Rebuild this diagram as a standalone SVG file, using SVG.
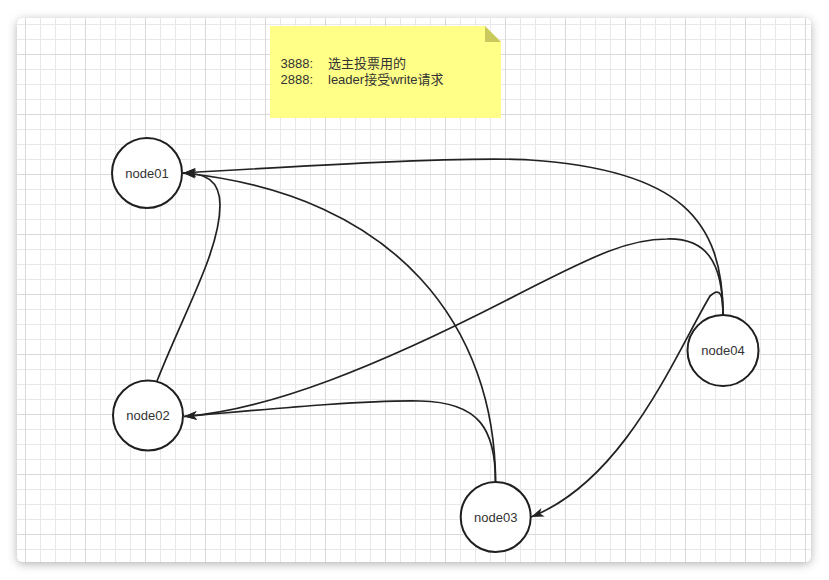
<svg xmlns="http://www.w3.org/2000/svg" width="829" height="580" viewBox="0 0 829 580">
<defs>
<style>
.node circle{fill:#ffffff;stroke:#1f1f1f;stroke-width:2}
.node text{font-family:"Liberation Sans",Arial,sans-serif;font-size:13px;fill:#333333;text-anchor:middle}
.edge{fill:none;stroke:#222222;stroke-width:1.7;marker-end:url(#arrow)}
.note-text{font-family:"Liberation Sans","Noto Sans CJK SC",sans-serif;font-size:13px;fill:#333333}
</style>
<marker id="arrow" markerUnits="userSpaceOnUse" markerWidth="15" markerHeight="11" refX="13" refY="5" orient="auto">
<path d="M0,0.5 L13,5 L0,9.5 L3.5,5 Z" fill="#222222"/>
</marker>
<pattern id="grid" patternUnits="userSpaceOnUse" x="25" y="-6" width="60" height="60">
<path d="M15.5,0 V60 M30.5,0 V60 M45.5,0 V60 M0,15.5 H60 M0,30.5 H60 M0,45.5 H60" stroke="#e8e8e8" stroke-width="1" fill="none"/>
<path d="M0.5,0 V60 M0,0.5 H60" stroke="#d9d9d9" stroke-width="1" fill="none"/>
</pattern>
<filter id="shadow" x="-10%" y="-10%" width="120%" height="120%">
<feDropShadow dx="0" dy="2" stdDeviation="5" flood-color="#000000" flood-opacity="0.3"/>
</filter>
</defs>
<rect width="829" height="580" fill="#ffffff"/>
<rect x="17" y="18" width="794" height="544" rx="6" fill="#ffffff" filter="url(#shadow)"/>
<rect x="17" y="18" width="794" height="544" rx="6" fill="url(#grid)"/>

<g id="note">
<path d="M270,26 H485 L501,42 V118 H270 Z" fill="#ffff88"/>
<path d="M485,26 L501,42 H485 Z" fill="#c9c95e"/>
<text class="note-text" x="280.5" y="68">3888:</text>
<text class="note-text" x="328" y="68">选主投票用的</text>
<text class="note-text" x="280.5" y="84">2888:</text>
<text class="note-text" x="328" y="84">leader接受write请求</text>
</g>

<g id="connectors">
<path id="e-04-01" class="edge" d="M723,315 C723,220 680,170 530,160 C470,156 300,166 183,173"/>
<path id="e-04-02" class="edge" d="M723,315 C723,260 705,238 667,239 C630,239 600,252 507,300 C380,365 270,410 184,416.5"/>
<path id="e-04-03" class="edge" d="M723,315 C723,296 721,286 710,296 C675,355 625,480 531,517"/>
<path id="e-03-01" class="edge" d="M495.5,482 C495.5,330 400,195 183,173"/>
<path id="e-03-02" class="edge" d="M495.5,482 C495.5,430 480,402 420,401 C360,400 260,410 184,416.5"/>
<path id="e-02-01" class="edge" d="M157,381 C185,310 220,250 220,205 C220,180 205,173 183,173"/>
</g>

<g id="node01" class="node">
<circle cx="147" cy="173" r="35"/>
<text x="147" y="177.5">node01</text>
</g>
<g id="node02" class="node">
<circle cx="148" cy="415.5" r="35"/>
<text x="148" y="420">node02</text>
</g>
<g id="node03" class="node">
<circle cx="495.7" cy="517" r="35"/>
<text x="495.7" y="521.5">node03</text>
</g>
<g id="node04" class="node">
<circle cx="723" cy="350.5" r="35.5"/>
<text x="723" y="355">node04</text>
</g>
</svg>
